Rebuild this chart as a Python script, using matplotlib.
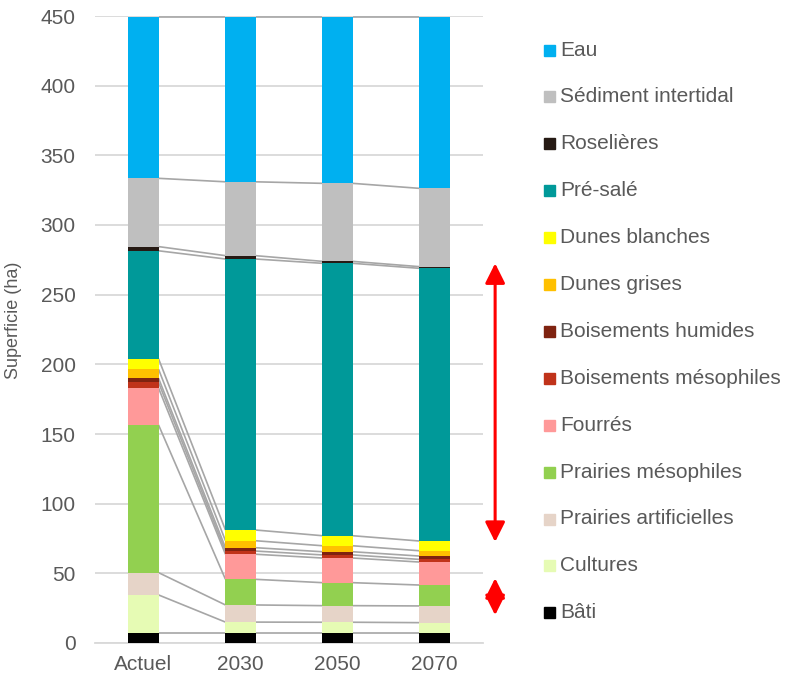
import numpy as np
import matplotlib.pyplot as plt
from matplotlib.patches import Rectangle

plt.rcParams['font.family'] = ['Liberation Sans', 'DejaVu Sans']

# scénarios
periodes = ['Actuel', '2030', '2050', '2070']

# habitats, du bas de la pile vers le haut
habitats = ['Bâti', 'Cultures', 'Prairies artificielles', 'Prairies mésophiles',
            'Fourrés', 'Boisements mésophiles', 'Boisements humides',
            'Dunes grises', 'Dunes blanches', 'Pré-salé', 'Roselières',
            'Sédiment intertidal', 'Eau']

couleurs = ['#000000', '#E6FBB4', '#E6D4C8', '#92D050',
            '#FF9999', '#C0331A', '#7F2310',
            '#FFC000', '#FFFF00', '#009999', '#261A14',
            '#BFBFBF', '#00B0F0']

# surfaces (ha) par habitat : Actuel, 2030, 2050, 2070
bati = [7, 7, 7, 7]
cultures = [27.5, 8, 7.9, 7.6]
prairies_art = [16, 12.3, 11.9, 12]
prairies_meso = [106, 18.4, 16.5, 15]
fourres = [26.5, 18, 17.7, 16.5]
bois_meso = [4, 2.3, 2.2, 1.9]
bois_hum = [3, 2.4, 2.3, 2.4]
dunes_grises = [6.5, 5, 4.3, 3.8]
dunes_blanches = [7.5, 7.7, 7.2, 7]
pre_sale = [77.5, 194.5, 195.5, 195.7]
roselieres = [3, 2.4, 1.4, 1.2]
sediment = [49, 53, 56, 56.2]
eau = [115.5, 118, 119.1, 122.7]

series = [bati, cultures, prairies_art, prairies_meso, fourres, bois_meso,
          bois_hum, dunes_grises, dunes_blanches, pre_sale, roselieres,
          sediment, eau]

# flèches (ha) : étendue du pré-salé et des prairies
fleche_pre_sale = [272.5, 72.5]
fleche_prairies = [46.5, 20]

fig = plt.figure(figsize=(7.88, 6.78), dpi=100)
ax = fig.add_axes([95 / 788, 1 - 643 / 678, 388 / 788, 627 / 678])

x = np.arange(len(periodes))
w = 0.31
bas = np.zeros(len(periodes))
for nom, vals, c in zip(habitats, series, couleurs):
    vals = np.array(vals, dtype=float)
    ax.bar(x, vals, w, bottom=bas, color=c, linewidth=0, zorder=3)
    haut = bas + vals
    # lignes de liaison entre les barres
    for i in range(len(periodes) - 1):
        ax.plot([x[i] + w / 2, x[i + 1] - w / 2], [haut[i], haut[i + 1]],
                color='#A6A6A6', lw=1.2, zorder=2, solid_capstyle='butt')
    bas = haut

ax.set_xlim(-0.5, 3.5)
ax.set_ylim(0, 450)
ax.set_yticks(np.arange(0, 451, 50))
ax.set_xticks(x)
ax.set_xticklabels(periodes)
ax.grid(axis='y', color='#D9D9D9', lw=1.3, zorder=0)
for s in ['top', 'right', 'left']:
    ax.spines[s].set_visible(False)
ax.spines['bottom'].set_color('#D9D9D9')
ax.spines['bottom'].set_linewidth(1.3)
ax.tick_params(axis='both', length=0, labelsize=15, labelcolor='#595959')
ax.tick_params(axis='y', pad=14)
ax.tick_params(axis='x', pad=9)
ax.set_ylabel('Superficie (ha)', fontsize=13, color='#595959')
ax.yaxis.set_label_coords(-73 / 388, 0.515)

# doubles flèches rouges à droite des barres
style = '<|-|>,head_length=0.6,head_width=0.3'
for deb, fin in [fleche_pre_sale, fleche_prairies]:
    ax.annotate('', xy=(3.625, fin), xytext=(3.625, deb),
                arrowprops=dict(arrowstyle=style, color='#FF0000', lw=2.2,
                                mutation_scale=20, shrinkA=0, shrinkB=0),
                annotation_clip=False)

# légende
for k, (nom, c) in enumerate(zip(habitats[::-1], couleurs[::-1])):
    yc = 50 + k * 46.9
    fig.patches.append(Rectangle((544 / 788, 1 - (yc + 5.5) / 678), 11 / 788, 11 / 678,
                                 transform=fig.transFigure, color=c, figure=fig))
    fig.text(560 / 788, 1 - yc / 678, nom, fontsize=15, color='#595959', va='center')

fig.savefig('out.png', dpi=100)
